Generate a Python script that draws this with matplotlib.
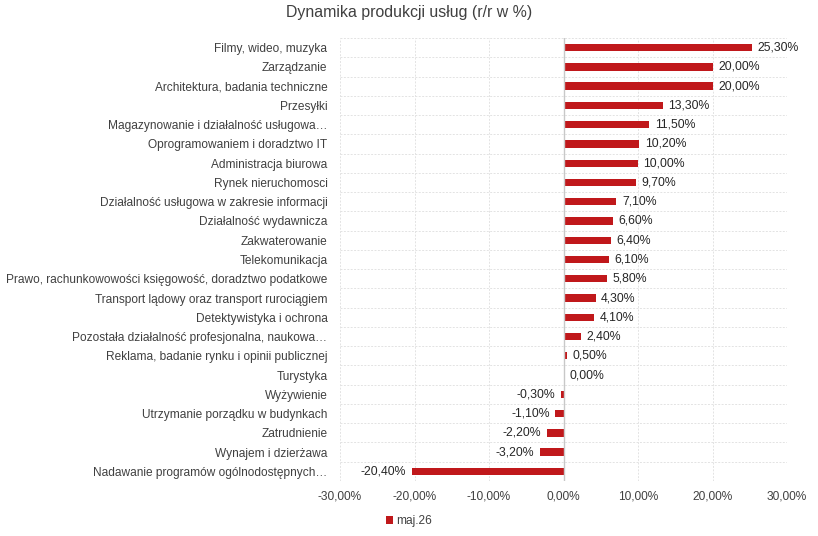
import matplotlib
matplotlib.use("Agg")
import matplotlib.pyplot as plt
from matplotlib.ticker import FuncFormatter, MultipleLocator

plt.rcParams['font.family'] = ['Liberation Sans', 'DejaVu Sans']

categories = [
    "Filmy, wideo, muzyka",
    "Zarządzanie",
    "Architektura, badania techniczne",
    "Przesyłki",
    "Magazynowanie i działalność usługowa…",
    "Oprogramowaniem i doradztwo IT",
    "Administracja biurowa",
    "Rynek nieruchomosci",
    "Działalność usługowa w zakresie informacji",
    "Działalność wydawnicza",
    "Zakwaterowanie",
    "Telekomunikacja",
    "Prawo, rachunkowowości księgowość, doradztwo podatkowe",
    "Transport lądowy oraz transport rurociągiem",
    "Detektywistyka i ochrona",
    "Pozostała działalność profesjonalna, naukowa…",
    "Reklama, badanie rynku i opinii publicznej",
    "Turystyka",
    "Wyżywienie",
    "Utrzymanie porządku w budynkach",
    "Zatrudnienie",
    "Wynajem i dzierżawa",
    "Nadawanie programów ogólnodostępnych…",
]
values = [25.3, 20.0, 20.0, 13.3, 11.5, 10.2, 10.0, 9.7, 7.1, 6.6, 6.4, 6.1,
          5.8, 4.3, 4.1, 2.4, 0.5, 0.0, -0.3, -1.1, -2.2, -3.2, -20.4]
series_name = "maj.26"
title = "Dynamika produkcji usług (r/r w %)"

def pct(v):
    return f"{v:.2f}%".replace(".", ",")

fig = plt.figure(figsize=(8.18, 5.36), dpi=100)
ax = fig.add_axes([340/818, 1-481/536, (787-340)/818, (481-38)/536])

n = len(categories)
ypos = list(range(n))
bars = ax.barh(ypos, values, height=0.38, color="#C0181B", label=series_name, zorder=3)
ax.set_ylim(n-0.5, -0.5)
ax.set_xlim(-30, 30)
ax.xaxis.set_major_locator(MultipleLocator(10))
ax.xaxis.set_major_formatter(FuncFormatter(lambda v, p: pct(v)))
ax.set_yticks(ypos)
ax.set_yticklabels(categories)
ax.tick_params(axis='both', length=0, labelsize=8.6, colors="#404040")
ax.tick_params(axis='y', pad=9)
ax.tick_params(axis='x', pad=7)

# gridlines
grid_color = "#E3E3E3"
for x in range(-30, 31, 10):
    if x != 0:
        ax.axvline(x, color=grid_color, lw=0.7, ls=(0, (2, 1.5)), zorder=1)
for b in [i - 0.5 for i in range(n + 1)]:
    ax.axhline(b, color=grid_color, lw=0.7, ls=(0, (2, 1.5)), zorder=1)
ax.axvline(0, color="#C8C8C8", lw=1.0, zorder=4)
for s in ax.spines.values():
    s.set_visible(False)

for y, v in zip(ypos, values):
    if v >= 0:
        ax.annotate(pct(v), (v, y), xytext=(4, 0), textcoords="offset points",
                    ha="left", va="center", fontsize=8.8, color="#262626")
    else:
        ax.annotate(pct(v), (v, y), xytext=(-4, 0), textcoords="offset points",
                    ha="right", va="center", fontsize=8.8, color="#262626")

fig.text(0.5, 1-13/536, title, ha="center", va="center", fontsize=11.4, color="#404040")
fig.legend(handles=[bars], labels=[series_name], loc="center", bbox_to_anchor=(0.5, 1-521/536),
           frameon=False, fontsize=8.6, handlelength=0.6, handleheight=0.6, handletextpad=0.3,
           labelcolor="#404040")

fig.savefig("out.png", dpi=100)
